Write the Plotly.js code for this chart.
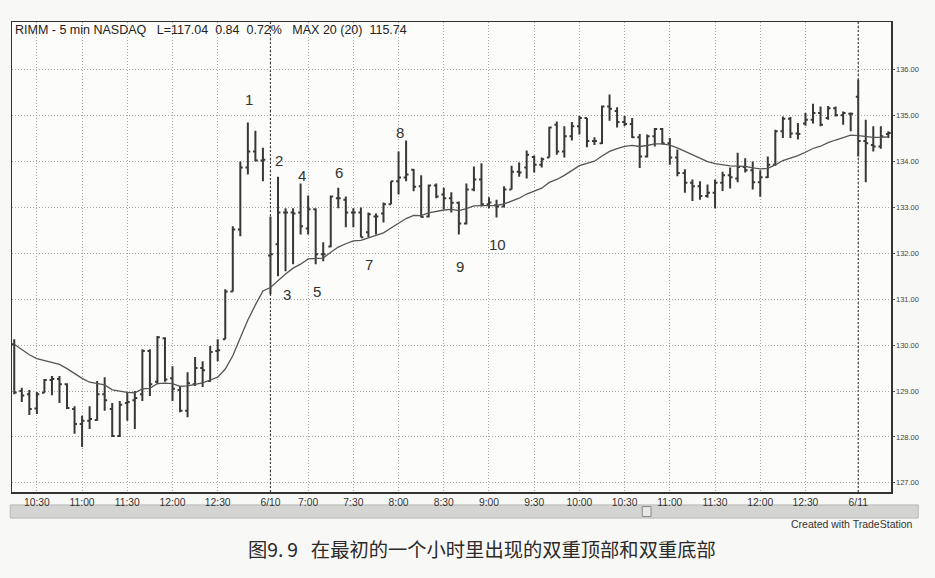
<!DOCTYPE html>
<html>
<head>
<meta charset="utf-8">
<script src="https://cdn.plot.ly/plotly-3.0.1.min.js"></script>
<style>
  html, body { margin: 0; padding: 0; background: #f8f8f6; }
  #chart { width: 935px; height: 578px; }
</style>
</head>
<body>
<div id="chart"></div>
<script>
// ---- sessions (5-minute bars) ----
const sessionDates = ['6/9', '6/10', '6/11'];
const sessionFirstBar = ['10:15', '6:35', '6:35'];
const sessionLastBar = ['13:00', '13:00', '6:55'];

// ---- OHLC values ----
const opens = [
  130.02,129.00,128.93,128.62,128.96,129.24,129.26,129.15,128.61,128.28,
  128.35,128.37,128.93,128.61,128.02,128.74,128.80,128.93,129.87,129.20,
  130.15,129.28,129.02,128.57,129.15,129.50,129.22,129.87,130.13,131.17,
  132.52,133.87,134.22,134.02,
  131.95,132.20,132.89,132.89,132.89,132.54,132.96,131.98,132.15,133.20,
  133.17,132.89,132.89,132.46,132.80,132.87,133.07,133.57,133.65,133.82,
  133.46,132.80,133.48,133.28,133.20,133.10,132.65,133.39,133.61,133.07,
  133.05,133.02,133.39,133.78,133.87,134.10,133.93,134.09,134.80,134.22,
  134.55,134.77,134.95,134.45,134.40,135.20,135.10,134.86,134.82,134.53,
  134.11,134.55,134.71,134.40,134.09,133.75,133.54,133.46,133.25,133.32,
  133.54,133.70,133.63,133.88,133.81,133.55,133.66,133.93,134.66,134.93,
  134.61,134.83,134.91,135.06,134.95,135.16,135.01,135.04,
  135.41,134.45,134.36,134.33,134.60
];
const highs = [
  130.13,129.07,129.02,128.98,129.26,129.33,129.33,129.17,128.67,128.46,
  128.67,129.22,129.30,128.74,128.78,128.98,129.00,129.91,129.91,130.20,
  130.17,129.54,129.11,129.41,129.74,129.65,129.98,130.13,131.22,132.59,
  134.00,134.85,134.67,134.30,
  132.80,133.67,132.98,132.98,133.52,133.26,132.98,132.24,133.26,133.43,
  133.24,132.98,133.00,132.89,132.87,133.11,133.57,134.22,134.46,133.84,
  133.70,133.50,133.52,133.43,133.33,133.13,133.52,133.89,133.96,133.22,
  133.17,133.46,133.91,133.98,134.24,134.13,134.09,134.76,134.87,134.77,
  134.86,135.00,134.95,134.53,135.22,135.46,135.18,135.00,134.95,134.60,
  134.59,134.73,134.73,134.51,134.26,133.83,133.61,133.57,133.50,133.61,
  133.78,133.87,134.19,134.07,134.00,133.81,134.11,134.69,134.98,134.97,
  134.84,135.06,135.26,135.20,135.21,135.20,135.09,135.07,
  135.78,134.91,134.77,134.77,134.66
];
const lows = [
  128.93,128.76,128.48,128.50,128.96,128.91,128.74,128.61,128.07,127.78,
  128.17,128.35,128.57,128.00,128.00,128.35,128.17,128.78,128.89,129.15,
  129.20,128.78,128.54,128.43,129.11,129.09,129.20,129.65,130.13,131.17,
  132.37,133.72,134.00,133.57,
  131.11,131.50,131.61,131.76,132.41,132.41,131.76,131.83,132.13,132.98,
  132.57,132.57,132.35,132.35,132.41,132.67,133.07,133.28,133.57,133.35,
  132.78,132.78,133.20,132.96,132.89,132.41,132.63,133.35,133.02,132.98,
  132.78,133.00,133.39,133.67,133.63,133.76,133.87,134.09,134.15,134.09,
  134.46,134.59,134.31,134.36,134.38,134.89,134.74,134.77,134.51,133.86,
  134.09,134.33,134.37,133.93,133.68,133.32,133.14,133.17,133.21,132.98,
  133.36,133.41,133.55,133.76,133.39,133.23,133.64,133.91,134.51,134.51,
  134.48,134.78,134.83,134.77,134.91,134.98,134.80,134.66,
  134.11,133.55,134.22,134.28,134.51
];
const closes = [
  128.97,128.90,128.61,128.93,129.24,129.26,129.15,128.63,128.28,128.35,
  128.39,128.93,128.80,128.02,128.70,128.76,128.85,129.87,129.15,130.17,
  129.25,129.05,128.57,129.17,129.50,129.45,129.85,129.89,131.17,132.52,
  133.87,134.22,134.02,134.04,
  131.98,132.89,132.89,132.87,132.59,132.96,131.98,131.98,133.24,133.20,
  132.89,132.89,132.35,132.85,132.80,133.07,133.57,133.65,133.72,133.45,
  132.79,133.48,133.24,133.20,133.10,132.65,133.39,133.61,133.07,133.11,
  133.02,133.39,133.78,133.76,134.15,133.93,134.05,134.74,134.22,134.55,
  134.77,134.95,134.45,134.45,135.20,135.15,134.86,134.82,134.53,134.11,
  134.55,134.71,134.40,134.09,133.75,133.54,133.46,133.25,133.32,133.54,
  133.70,133.66,133.88,133.81,133.55,133.66,133.93,134.66,134.93,134.61,
  134.60,134.91,135.06,134.80,135.16,135.01,135.06,135.04,
  134.45,134.40,134.33,134.55,134.62
];
// value of the 20-bar exponential average (MAX 20) at the first visible bar
const maFirstValue = 130.02;
const maLength = 20;

// ---- axis labels ----
const timeTickBars = ['6/9 10:30','6/9 11:00','6/9 11:30','6/9 12:00','6/9 12:30','6/10 6:35',
  '6/10 7:00','6/10 7:30','6/10 8:00','6/10 8:30','6/10 9:00','6/10 9:30','6/10 10:00',
  '6/10 10:30','6/10 11:00','6/10 11:30','6/10 12:00','6/10 12:30','6/11 6:35'];
const timeTickLabels = ['10:30','11:00','11:30','12:00','12:30','6/10','7:00','7:30','8:00',
  '8:30','9:00','9:30','10:00','10:30','11:00','11:30','12:00','12:30','6/11'];
const priceTicks = [127,128,129,130,131,132,133,134,135,136];

// ---- numbered swing labels ----
const swingText = ['1','2','3','4','5','6','7','8','9','10'];
const swingBar = ['6/9 12:50','6/10 6:40','6/10 6:45','6/10 6:55','6/10 7:05','6/10 7:20',
  '6/10 7:40','6/10 8:00','6/10 8:40','6/10 9:05'];
const swingAt = ['high','high','low','high','low','high','low','high','low','low'];

const headerText = 'RIMM - 5 min NASDAQ\u00a0\u00a0\u00a0L=117.04\u00a0\u00a00.84\u00a0\u00a00.72%\u00a0\u00a0\u00a0MAX 20 (20)\u00a0\u00a0115.74';
const captionText = '图9.\u20099\u00a0\u00a0\u00a0在最初的一个小时里出现的双重顶部和双重底部';
const creditText = 'Created with TradeStation';

// ---- build bar time categories ----
function toMin(s) { const p = s.split(':'); return (+p[0]) * 60 + (+p[1]); }
function fmt(m) { const h = Math.floor(m / 60), mm = m % 60; return h + ':' + (mm < 10 ? '0' : '') + mm; }
const times = [];
const sessionStartIdx = [];
sessionDates.forEach((d, k) => {
  sessionStartIdx.push(times.length);
  for (let m = toMin(sessionFirstBar[k]); m <= toMin(sessionLastBar[k]); m += 5) times.push(d + ' ' + fmt(m));
});

// ---- exponential moving average of closes ----
const alpha = 2 / (maLength + 1);
const ema = [];
closes.forEach((c, i) => { ema.push(i === 0 ? maFirstValue : ema[i - 1] + alpha * (c - ema[i - 1])); });

const barColor = '#383838';
const traces = [
  {
    type: 'ohlc', x: times, open: opens, high: highs, low: lows, close: closes,
    increasing: { line: { color: barColor, width: 2 } },
    decreasing: { line: { color: barColor, width: 2 } },
    tickwidth: 0.32, hoverinfo: 'skip', showlegend: false
  },
  {
    type: 'scatter', mode: 'lines', x: times, y: ema,
    line: { color: '#555', width: 1.3 }, hoverinfo: 'skip', showlegend: false
  }
];

// label offsets in pixels (style)
const swingOffset = [23, 16, 23, 8, 27, 15, 27, 19, 32, 27];
const annotations = swingText.map((t, k) => {
  const i = times.indexOf(swingBar[k]);
  const up = swingAt[k] === 'high';
  return {
    x: i, y: up ? highs[i] : lows[i], xref: 'x', yref: 'y', text: t, showarrow: false,
    yshift: up ? swingOffset[k] : -swingOffset[k], xshift: 1,
    font: { family: 'Liberation Sans, Arial, sans-serif', size: 15, color: '#333' }
  };
});
annotations.push({
  xref: 'paper', yref: 'paper', x: 0, y: 0.983, xanchor: 'left', yanchor: 'middle', xshift: 1,
  text: headerText, showarrow: false,
  font: { family: 'Liberation Sans, Arial, sans-serif', size: 12.5, color: '#222' }
});
annotations.push({
  xref: 'paper', yref: 'paper', x: 0.535, y: -0.121, xanchor: 'center', yanchor: 'middle',
  text: captionText, showarrow: false,
  font: { family: 'Noto Sans CJK SC, sans-serif', size: 19.3, color: '#2a2a2a' }
});
annotations.push({
  xref: 'paper', yref: 'paper', x: 1.027, y: -0.068, xanchor: 'right', yanchor: 'middle',
  text: creditText, showarrow: false,
  font: { family: 'Liberation Sans, Arial, sans-serif', size: 10.5, color: '#333' }
});

const shapes = [];
// day separators
sessionStartIdx.slice(1).forEach(i => {
  shapes.push({ type: 'line', xref: 'x', yref: 'paper', x0: i, x1: i, y0: 0, y1: 1,
    line: { color: '#444', width: 1.2, dash: '2px,2px' } });
});
// scroll bar band under the time axis
shapes.push({ type: 'rect', xref: 'paper', yref: 'paper', x0: -0.002, x1: 1.031, y0: -0.0555, y1: -0.0275,
  fillcolor: '#d4d4d2', line: { color: '#b8b8b6', width: 1 }, layer: 'below' });
shapes.push({ type: 'rect', xref: 'paper', yref: 'paper', x0: 0.717, x1: 0.727, y0: -0.052, y1: -0.031,
  fillcolor: '#e8e8e6', line: { color: '#888', width: 1 } });

const gridDash = '1px,2px';
const layout = {
  width: 935, height: 578,
  margin: { l: 12, r: 44, t: 22, b: 86, pad: 0 },
  paper_bgcolor: '#f8f8f6', plot_bgcolor: '#fcfcfb',
  showlegend: false,
  xaxis: {
    type: 'category', range: [-0.3, times.length - 0.65],
    tickmode: 'array', tickvals: timeTickBars, ticktext: timeTickLabels,
    showgrid: true, gridcolor: '#a8a8a8', griddash: gridDash, gridwidth: 1,
    ticks: '', showline: true, mirror: true, linecolor: '#333', linewidth: 1.5,
    tickfont: { family: 'Liberation Sans, Arial, sans-serif', size: 10.3, color: '#333' },
    rangeslider: { visible: false }, fixedrange: true
  },
  yaxis: {
    side: 'right', range: [126.80, 137.04],
    tickmode: 'array', tickvals: priceTicks, ticktext: priceTicks.map(v => v.toFixed(2)),
    showgrid: true, gridcolor: '#a8a8a8', griddash: gridDash, gridwidth: 1,
    ticks: 'outside', ticklen: 2, tickcolor: '#555',
    showline: true, mirror: true, linecolor: '#333', linewidth: 1.5, zeroline: false,
    tickfont: { family: 'Liberation Sans, Arial, sans-serif', size: 7.5, color: '#444' },
    fixedrange: true
  },
  annotations: annotations,
  shapes: shapes
};

Plotly.newPlot('chart', traces, layout, { displayModeBar: false, staticPlot: true });
</script>
</body>
</html>
